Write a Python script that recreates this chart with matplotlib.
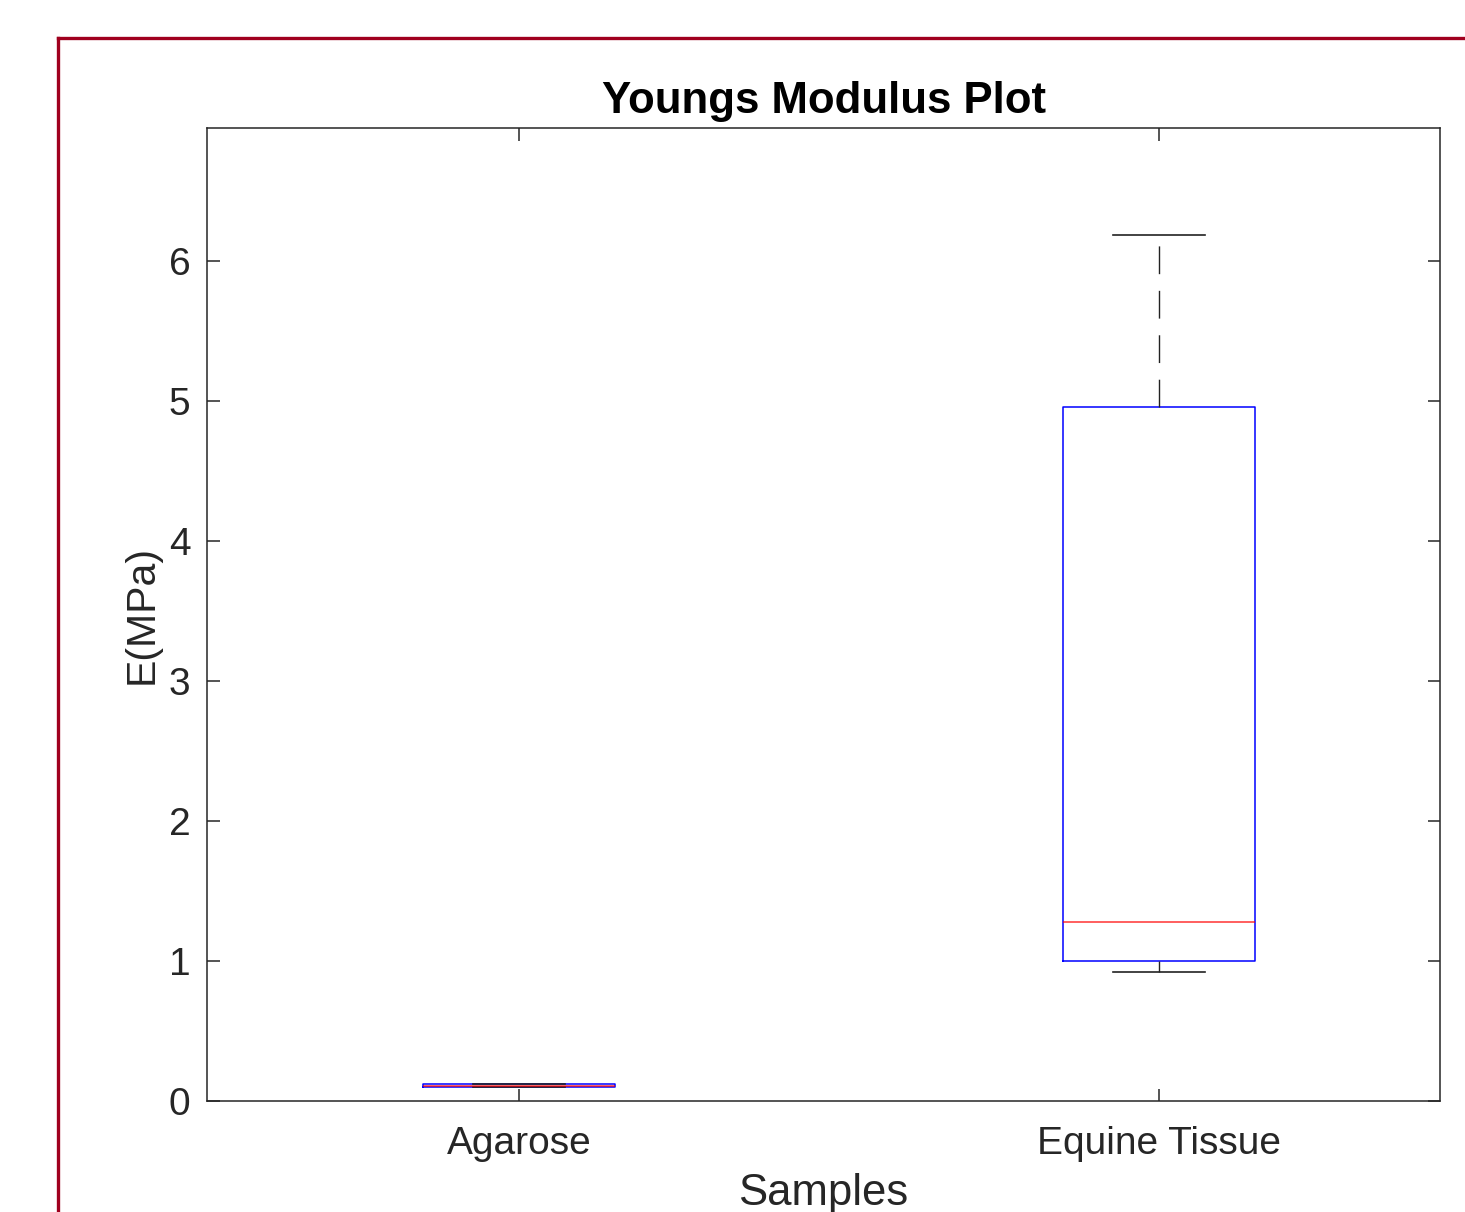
import matplotlib
matplotlib.use("Agg")
import matplotlib.pyplot as plt
from matplotlib.lines import Line2D

categories = ["Agarose", "Equine Tissue"]
whislo = [0.098, 0.92]
q1 = [0.100, 1.00]
med = [0.110, 1.28]
q3 = [0.118, 4.955]
whishi = [0.122, 6.185]
yticks = [0, 1, 2, 3, 4, 5, 6]

plt.rcParams['font.family'] = ['Liberation Sans', 'DejaVu Sans']

fig = plt.figure(figsize=(14.65, 12.12), dpi=100)
ax = fig.add_axes([207/1465, 1-1101/1212, (1440-207)/1465, (1101-128)/1212])

stats = []
for i, c in enumerate(categories):
    stats.append(dict(label=c, whislo=whislo[i], q1=q1[i], med=med[i],
                      q3=q3[i], whishi=whishi[i], fliers=[]))

ax.bxp(stats, positions=[1, 2], widths=0.3, capwidths=0.145, showfliers=False,
       boxprops=dict(color='blue', linewidth=1.1),
       medianprops=dict(color='red', linewidth=1.1, alpha=0.8),
       whiskerprops=dict(color='#222222', linewidth=1.0, linestyle=(0, (20, 12))),
       capprops=dict(color='#222222', linewidth=1.2))

ax.set_xlim(0.5125, 2.439)
ax.set_ylim(0, 6.95)
ax.set_yticks(yticks)
ax.set_yticklabels([str(t) for t in yticks])
ax.set_xticks([1, 2])
ax.set_xticklabels(categories)

for s in ax.spines.values():
    s.set_color('#262626')
    s.set_linewidth(1.1)
ax.tick_params(direction='in', length=9, width=1.1, color='#262626',
               top=True, right=True, labelsize=28, labelcolor='#262626')
ax.tick_params(axis='x', pad=18)
ax.tick_params(axis='y', pad=12)

ax.set_title("Youngs Modulus Plot", fontsize=31.5, fontweight='bold', pad=11)
ax.set_xlabel("Samples", fontsize=31.5, color='#262626', labelpad=8)
ax.set_ylabel("E(MPa)", fontsize=29.5, color='#262626', labelpad=6)

# dark red frame
fx0 = 57.5/1465
fy0 = 1-37.5/1212
fig.add_artist(Line2D([fx0, fx0], [0, fy0], color='#A0001E', linewidth=2.4, transform=fig.transFigure))
fig.add_artist(Line2D([fx0, 1.0], [fy0, fy0], color='#A0001E', linewidth=2.4, transform=fig.transFigure))

fig.savefig("out.png", dpi=100, facecolor='white')
